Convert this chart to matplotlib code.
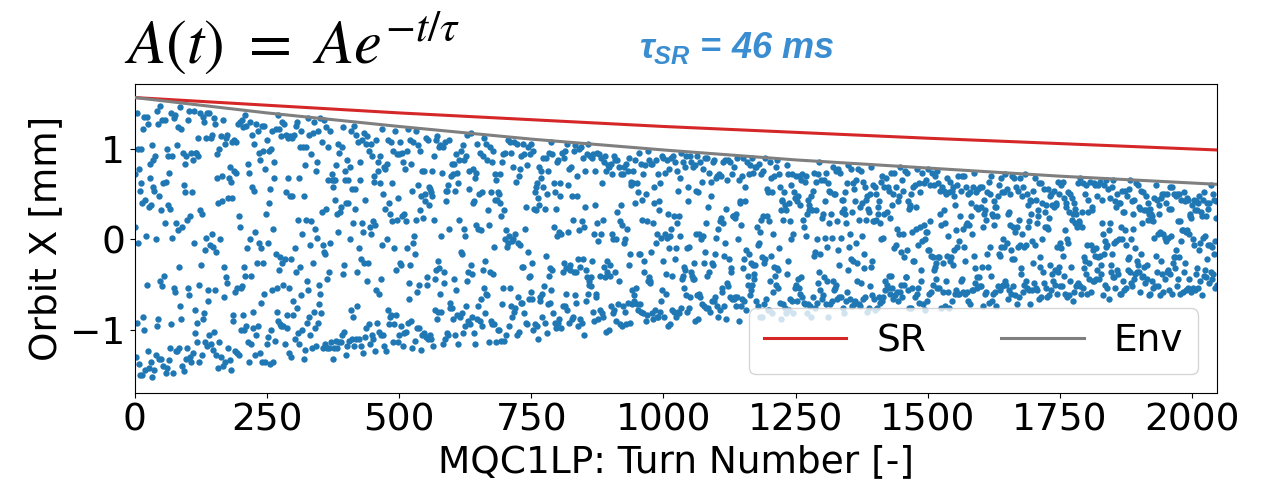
import numpy as np
import matplotlib
matplotlib.use("Agg")
import matplotlib.pyplot as plt

# envelope of the oscillation [turn, mm]
env_turns = [0, 250, 500, 750, 1000, 1250, 1500, 1750, 2047]
env_mm = [1.57, 1.40, 1.25, 1.11, 0.99, 0.88, 0.79, 0.70, 0.61]

# synchrotron-radiation damping line (red) [turn, mm]
sr_turns = [0, 500, 1000, 1500, 2047]
sr_mm = [1.57, 1.40, 1.25, 1.12, 0.99]

# turn-by-turn orbit: damped betatron oscillation with
# synchrotron phase modulation and a small residual component
n_turns = 2048
tune = 0.3187
phase0 = -1.54
sync_tunes = [0.0123, 0.0291]
sync_depth = [3.0, 1.7]
resid_tune = 0.4371
resid_mm = 0.09
bpm_step = 0.02  # readout resolution [mm]

turns = np.arange(n_turns)
amp = np.exp(np.interp(turns, env_turns, np.log(env_mm)))
phase = 2 * np.pi * tune * turns + phase0
for qs, d in zip(sync_tunes, sync_depth):
    phase += d * np.sin(2 * np.pi * qs * turns)
orbit = (amp - resid_mm) * np.cos(phase) + resid_mm * np.cos(2 * np.pi * resid_tune * turns)
orbit = np.round(orbit / bpm_step) * bpm_step

plt.rcParams["font.size"] = 27
plt.rcParams["mathtext.fontset"] = "custom"
plt.rcParams["mathtext.it"] = "Liberation Sans:bold:italic"
plt.rcParams["mathtext.rm"] = "Liberation Sans:bold:italic"

fig = plt.figure(figsize=(12.61, 4.87), dpi=100)
ax = fig.add_axes([0.107, 0.193, 0.858, 0.6345])

ax.scatter(turns, orbit, s=21, color="tab:blue", linewidths=0, zorder=2)
ax.plot(sr_turns, sr_mm, color="tab:red", lw=2.2, label="SR", zorder=3)
ax.plot(env_turns, env_mm, color="tab:gray", lw=2.2, label="Env", zorder=3)

ax.set_xlim(0, 2047)
ax.set_ylim(-1.70, 1.72)
ax.set_xticks([0, 250, 500, 750, 1000, 1250, 1500, 1750, 2000])
ax.set_yticks([-1, 0, 1])
ax.set_xlabel("MQC1LP: Turn Number [-]")
ax.set_ylabel("Orbit X [mm]")
ax.legend(loc="lower right", ncol=2, fontsize=27, handlelength=2.2)

fig.text(0.098, 0.87, r"$A(t)\ =\ Ae^{-t/\tau}$", fontsize=45,
         math_fontfamily="stix", color="black")
fig.text(0.507, 0.88, r"$\tau_{SR}$ = 46 ms", fontsize=26,
         family="Liberation Sans", weight="bold", style="italic",
         color="#3a8dd0")

fig.savefig("out.png", dpi=100)
